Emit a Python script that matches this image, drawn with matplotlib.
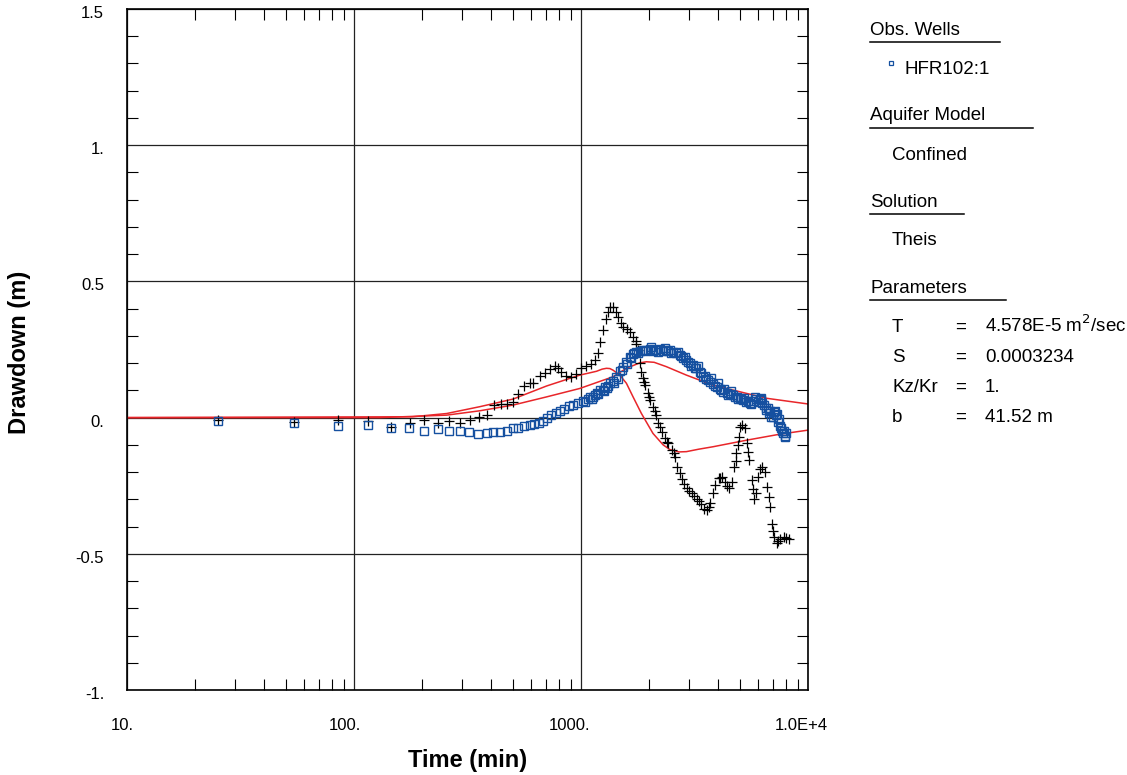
import matplotlib.pyplot as plt
from matplotlib.ticker import FixedLocator, NullFormatter, LogLocator
from matplotlib.transforms import ScaledTranslation
import numpy as np

plt.rcParams['font.family'] = ['Liberation Sans', 'DejaVu Sans']

# observed drawdown, well HFR102:1 (time in min, drawdown in m)
obs_t = [25.2, 54.4, 84.9, 115, 145, 174, 204, 235, 262, 294, 322, 352, 384, 410,
         439, 474, 502, 528, 561, 595, 620, 654, 681, 711, 741, 774, 806, 843,
         881, 923, 971, 1021, 1074, 1093, 1130, 1151, 1189, 1211, 1251, 1274,
         1316, 1341, 1383, 1433, 1482, 1533, 1584, 1641, 1696, 1754, 1815, 1876,
         1942, 2009, 2075, 2148, 2224, 2300, 2377, 2459, 2542, 2631, 2721, 2816,
         2912, 3013, 3117, 3225, 3335, 3451, 3570, 3692, 3816, 3953, 4083, 4224,
         4375, 4519, 4677, 4842, 5000, 5176, 5358, 5546, 5728, 5929, 6128, 6237,
         6383, 6561, 6714, 6900, 7067, 7258, 7382, 7506, 7635, 7762, 7897, 8030,
         # second pass, edges of the dense band
         1120, 1260, 1400, 1520, 1660, 1790, 1910, 2040, 2190, 2340, 2500, 2680,
         2860, 3060, 3280, 3500, 3750, 4000, 4280, 4600, 4900, 5250, 5600, 5850,
         6050, 6300, 6500, 6800, 7000, 7150, 7450, 7700, 7950,
         1040, 1180, 1300, 1460, 1600, 1720, 2110, 2420, 2770, 2960, 3170, 3390,
         3620, 3880, 4150, 4450, 4760, 5080, 5450, 6180, 6650, 7320, 7830]
obs_s = [-0.013, -0.020, -0.031, -0.028, -0.037, -0.040, -0.048, -0.043, -0.048,
         -0.048, -0.054, -0.060, -0.058, -0.054, -0.053, -0.048, -0.037, -0.037,
         -0.031, -0.029, -0.025, -0.019, -0.012, -0.003, 0.009, 0.018, 0.025,
         0.032, 0.043, 0.048, 0.054, 0.061, 0.067, 0.076, 0.075, 0.084, 0.086,
         0.101, 0.101, 0.112, 0.116, 0.126, 0.136, 0.150, 0.171, 0.187, 0.204,
         0.223, 0.233, 0.242, 0.246, 0.250, 0.248, 0.252, 0.246, 0.248, 0.252,
         0.246, 0.248, 0.250, 0.242, 0.237, 0.230, 0.220, 0.211, 0.202, 0.193,
         0.182, 0.168, 0.150, 0.141, 0.131, 0.123, 0.113, 0.105, 0.095, 0.090,
         0.086, 0.083, 0.077, 0.072, 0.064, 0.057, 0.052, 0.061, 0.067, 0.068,
         0.064, 0.046, 0.028, 0.017, 0.003, 0.020, 0.009, -0.015, -0.031, -0.040,
         -0.057, -0.071, -0.057,
         0.068, 0.096, 0.128, 0.176, 0.219, 0.238, 0.243, 0.258, 0.240, 0.256,
         0.236, 0.240, 0.222, 0.190, 0.190, 0.152, 0.145, 0.127, 0.104, 0.098,
         0.068, 0.072, 0.049, 0.074, 0.058, 0.055, 0.036, 0.024, 0.001, 0.026,
         -0.006, -0.050, -0.066,
         0.058, 0.090, 0.108, 0.140, 0.198, 0.236, 0.250, 0.244, 0.226, 0.205,
         0.183, 0.165, 0.137, 0.116, 0.100, 0.082, 0.075, 0.067, 0.060, 0.072,
         0.034, 0.012, -0.048]

# black "+" series
plus_t = [25.2, 54.4, 84.9, 115, 145, 176, 204, 235, 262, 294, 323, 355, 384, 415,
          444, 472, 502, 530, 561, 595, 614, 658, 691, 727, 765, 791, 818, 861,
          906, 954, 1003, 1055, 1110, 1147, 1188, 1208, 1251, 1287, 1316, 1348,
          1385, 1422, 1455, 1493, 1533, 1596, 1652, 1696, 1744, 1784, 1815, 1846,
          1877, 1922, 1974, 2022, 2078, 2136, 2187, 2265, 2344, 2426, 2511, 2599,
          2661, 2735, 2831, 2929, 3083, 3245, 3378, 3493, 3591, 3714, 3818, 3910,
          4044, 4183, 4327, 4476, 4630, 4738, 4837, 4950, 5120, 5296, 5387, 5512,
          5664, 5796, 5913, 6050, 6259, 6474, 6628, 6810, 6970, 7114, 7288, 7539,
          7871, 8225,
          1740, 1900, 2000, 2110, 2230, 2390, 2560, 2780, 3000, 3160, 3300, 3650,
          4110, 4400, 4800, 4900, 5040, 5450, 5730, 6150, 6720, 7040, 7400, 8000]
plus_s = [-0.010, -0.015, -0.009, -0.012, -0.034, -0.019, -0.009, -0.019, -0.014,
          -0.019, -0.009, 0.003, 0.010, 0.046, 0.050, 0.050, 0.058, 0.086, 0.117,
          0.126, 0.128, 0.154, 0.162, 0.177, 0.189, 0.183, 0.168, 0.154, 0.148,
          0.159, 0.181, 0.189, 0.195, 0.211, 0.238, 0.278, 0.321, 0.361, 0.389,
          0.407, 0.405, 0.389, 0.370, 0.348, 0.331, 0.324, 0.315, 0.297, 0.272,
          0.248, 0.201, 0.168, 0.144, 0.119, 0.089, 0.064, 0.040, 0.009, -0.019,
          -0.052, -0.076, -0.095, -0.119, -0.144, -0.181, -0.205, -0.242, -0.260,
          -0.278, -0.297, -0.318, -0.337, -0.340, -0.315, -0.278, -0.248, -0.223,
          -0.217, -0.236, -0.260, -0.236, -0.181, -0.131, -0.071, -0.028, -0.040,
          -0.095, -0.156, -0.230, -0.297, -0.278, -0.217, -0.181, -0.199, -0.254,
          -0.328, -0.389, -0.438, -0.462, -0.444, -0.438, -0.444,
          0.282, 0.130, 0.075, 0.025, -0.035, -0.088, -0.130, -0.225, -0.270,
          -0.288, -0.308, -0.330, -0.220, -0.250, -0.160, -0.100, -0.035, -0.125,
          -0.262, -0.190, -0.290, -0.415, -0.452, -0.441]

# red model curves
curve1_t = [10, 181, 256, 358, 502, 705, 988, 1170, 1240, 1295, 1340, 1385, 1482,
            1585, 1696, 1846, 2075, 2300, 2459, 2700, 2912, 3300, 3816, 5358, 7506, 10000]
curve1_s = [0.0, 0.003, 0.015, 0.040, 0.068, 0.116, 0.156, 0.170, 0.178, 0.181,
            0.180, 0.174, 0.156, 0.126, 0.076, 0.015, -0.058, -0.100, -0.117,
            -0.126, -0.125, -0.116, -0.107, -0.083, -0.061, -0.046]
curve2_t = [10, 130, 256, 358, 502, 705, 988, 1385, 1585, 1815, 1942, 2100, 2377,
            2912, 3816, 5000, 6561, 10000]
curve2_s = [0.0, 0.0, 0.009, 0.025, 0.046, 0.076, 0.107, 0.150, 0.181, 0.201,
            0.205, 0.203, 0.187, 0.156, 0.119, 0.095, 0.071, 0.050]

x_ticks = [10, 100, 1000, 10000]
x_labels = ['10.', '100.', '1000.', '1.0E+4']
y_ticks = [-1, -0.5, 0, 0.5, 1, 1.5]
y_labels = ['-1.', '-0.5', '0.', '0.5', '1.', '1.5']

blue = '#1550a0'
fig = plt.figure(figsize=(11.27, 7.75), dpi=100)
ax = fig.add_axes([127/1127, 1-690/775, 681/1127, 681/775])

ax.plot(curve1_t, curve1_s, color='#e8262a', lw=1.1, zorder=2)
ax.plot(curve2_t, curve2_s, color='#e8262a', lw=1.1, zorder=2)
ax.plot(plus_t, plus_s, '+', color='black', ms=6.5, mew=0.9, zorder=3)
ax.plot(obs_t, obs_s, 's', mfc='none', mec=blue, ms=5.2, mew=1.0, zorder=4)

ax.set_xscale('log')
ax.set_xlim(10, 10000)
ax.set_ylim(-1, 1.5)
ax.xaxis.set_major_locator(FixedLocator(x_ticks))
ax.set_xticklabels(x_labels)
ax.xaxis.set_minor_locator(LogLocator(base=10, subs=np.arange(2, 10)))
ax.xaxis.set_minor_formatter(NullFormatter())
ax.yaxis.set_major_locator(FixedLocator(y_ticks))
ax.set_yticklabels(y_labels)
ax.yaxis.set_minor_locator(FixedLocator(np.arange(-1, 1.51, 0.1)))

ax.tick_params(which='both', direction='in', top=True, right=True, labelsize=12, colors='black')
ax.tick_params(which='major', length=0, pad=20, axis='x')
ax.tick_params(which='major', length=0, pad=16.5, axis='y')
ax.tick_params(which='minor', length=8, width=0.8)
ax.grid(True, which='major', color='#222222', lw=0.9)
for sp in ax.spines.values():
    sp.set_linewidth(1.2)

# the program draws tick labels a little off their ticks
for lab, dx in zip(ax.get_xticklabels(), [-5, -9, -11.5, -7]):
    lab.set_transform(lab.get_transform() + ScaledTranslation(dx / 100, 0, fig.dpi_scale_trans))
for lab in ax.get_yticklabels():
    lab.set_transform(lab.get_transform() + ScaledTranslation(0, -3 / 100, fig.dpi_scale_trans))

ax.set_xlabel('Time (min)', fontsize=17, fontweight='bold', labelpad=12)
fig.text(20 / 1127, 1 - 352 / 775, 'Drawdown (m)', fontsize=17, fontweight='bold',
         rotation=90, ha='center', va='center')

# side panel
def px(x, y):
    return x / 1127, 1 - y / 775

fs = 13.5

def heading(text, y, x_end):
    fig.text(*px(870, y), text, fontsize=fs, va='baseline', ha='left')
    fig.add_artist(plt.Line2D([870/1127, x_end/1127], [1-(y+7)/775]*2, color='black', lw=1.1))

heading('Obs. Wells', 35, 1000)
fig.add_artist(plt.Line2D([891/1127], [1-63/775], marker='s', mfc='none', mec=blue, ms=3.5, mew=0.9))
fig.text(*px(905, 73.5), 'HFR102:1', fontsize=fs, va='baseline')
heading('Aquifer Model', 120.5, 1033)
fig.text(*px(892, 159.5), 'Confined', fontsize=fs, va='baseline')
heading('Solution', 207, 964)
fig.text(*px(892, 245), 'Theis', fontsize=fs, va='baseline')
heading('Parameters', 293.5, 1006)
params = [('T', '4.578E-5 m$^2$/sec'), ('S', '0.0003234'), ('Kz/Kr', '1.'), ('b', '41.52 m')]
for i, (k, v) in enumerate(params):
    y = 332 + 30 * i
    fig.text(*px(892, y), k, fontsize=fs, va='baseline')
    fig.text(*px(955, y), '=', fontsize=fs, va='baseline')
    fig.text(*px(985, y), v, fontsize=fs, va='baseline')

fig.savefig('out.png', dpi=100)
